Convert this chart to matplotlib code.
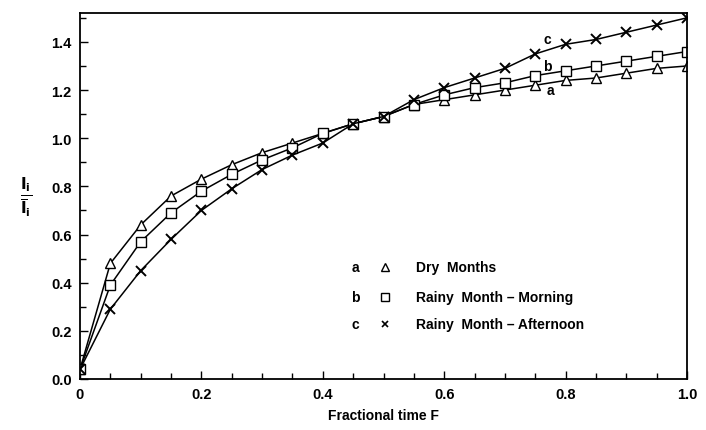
import numpy as np
import matplotlib.pyplot as plt
from matplotlib.ticker import MultipleLocator

# fractional time, every 0.05
F = [0.0, 0.05, 0.10, 0.15, 0.20, 0.25, 0.30, 0.35, 0.40, 0.45, 0.50,
     0.55, 0.60, 0.65, 0.70, 0.75, 0.80, 0.85, 0.90, 0.95, 1.0]

# a - dry months
dry = [0.04, 0.48, 0.64, 0.76, 0.83, 0.89, 0.94, 0.98, 1.02, 1.06, 1.09,
       1.14, 1.16, 1.18, 1.20, 1.22, 1.24, 1.25, 1.27, 1.29, 1.30]
# b - rainy month, morning
rainy_am = [0.04, 0.39, 0.57, 0.69, 0.78, 0.85, 0.91, 0.96, 1.02, 1.06, 1.09,
            1.14, 1.18, 1.21, 1.23, 1.26, 1.28, 1.30, 1.32, 1.34, 1.36]
# c - rainy month, afternoon
rainy_pm = [0.04, 0.29, 0.45, 0.58, 0.70, 0.79, 0.87, 0.93, 0.98, 1.06, 1.09,
            1.16, 1.21, 1.25, 1.29, 1.35, 1.39, 1.41, 1.44, 1.47, 1.50]

legend_rows = ["Dry  Months", "Rainy  Month \u2013 Morning", "Rainy  Month \u2013 Afternoon"]

plt.rcParams['font.family'] = ['Liberation Sans', 'DejaVu Sans']
plt.rcParams['font.weight'] = 'bold'
plt.rcParams['axes.labelweight'] = 'bold'

fig = plt.figure(figsize=(7.06, 4.31), dpi=100)
ax = fig.add_axes([80 / 706, 1 - 380 / 431, 607 / 706, 366 / 431])

ax.plot(F, dry, color='black', lw=1.1, marker='^', ms=7.5, mfc='white', mec='black', mew=1.0)
ax.plot(F, rainy_am, color='black', lw=1.1, marker='s', ms=7.5, mfc='white', mec='black', mew=1.0)
ax.plot(F, rainy_pm, color='black', lw=1.1, marker='x', ms=7, mew=1.4)

# curve letters
ax.text(0.77, 1.41, 'c', fontsize=10, ha='center', va='center')
ax.text(0.77, 1.30, 'b', fontsize=10, ha='center', va='center')
ax.text(0.775, 1.20, 'a', fontsize=10, ha='center', va='center')

# hand-drawn key
letters = ['a', 'b', 'c']
markers = ['^', 's', 'x']
key_y = [0.465, 0.34, 0.23]
for lt, mk, yy, txt in zip(letters, markers, key_y, legend_rows):
    ax.text(0.453, yy, lt, fontsize=10, ha='center', va='center')
    if mk == 'x':
        ax.plot([0.503], [yy], marker=mk, ms=5, color='black', mew=1.2)
    else:
        ax.plot([0.503], [yy], marker=mk, ms=6, mfc='white', mec='black', mew=1.0)
    ax.text(0.553, yy, txt, fontsize=10, ha='left', va='center')

ax.set_xlim(0, 1.0)
ax.set_ylim(0, 1.52)
ax.xaxis.set_minor_locator(MultipleLocator(0.05))
ax.yaxis.set_minor_locator(MultipleLocator(0.1))
ax.set_xticks([0, 0.2, 0.4, 0.6, 0.8, 1.0])
ax.set_xticklabels(['0', '0.2', '0.4', '0.6', '0.8', '1.0'])
ax.set_yticks([0.0, 0.2, 0.4, 0.6, 0.8, 1.0, 1.2, 1.4])
ax.set_yticklabels(['0.0', '0.2', '0.4', '0.6', '0.8', '1.0', '1.2', '1.4'])
ax.tick_params(which='both', direction='in', top=False, right=False, labelsize=10.5, pad=6)
ax.tick_params(which='major', length=6, width=1.0)
ax.tick_params(which='minor', length=4, width=1.0)
for s in ax.spines.values():
    s.set_linewidth(1.3)

ax.set_xlabel('Fractional time F', fontsize=10, labelpad=5)
ax.set_ylabel(r'$\frac{\mathbf{I_i}}{\overline{\mathbf{I}}_\mathbf{i}}$', fontsize=16, rotation=0,
              labelpad=18, va='center')

fig.savefig('out.png', dpi=100)
